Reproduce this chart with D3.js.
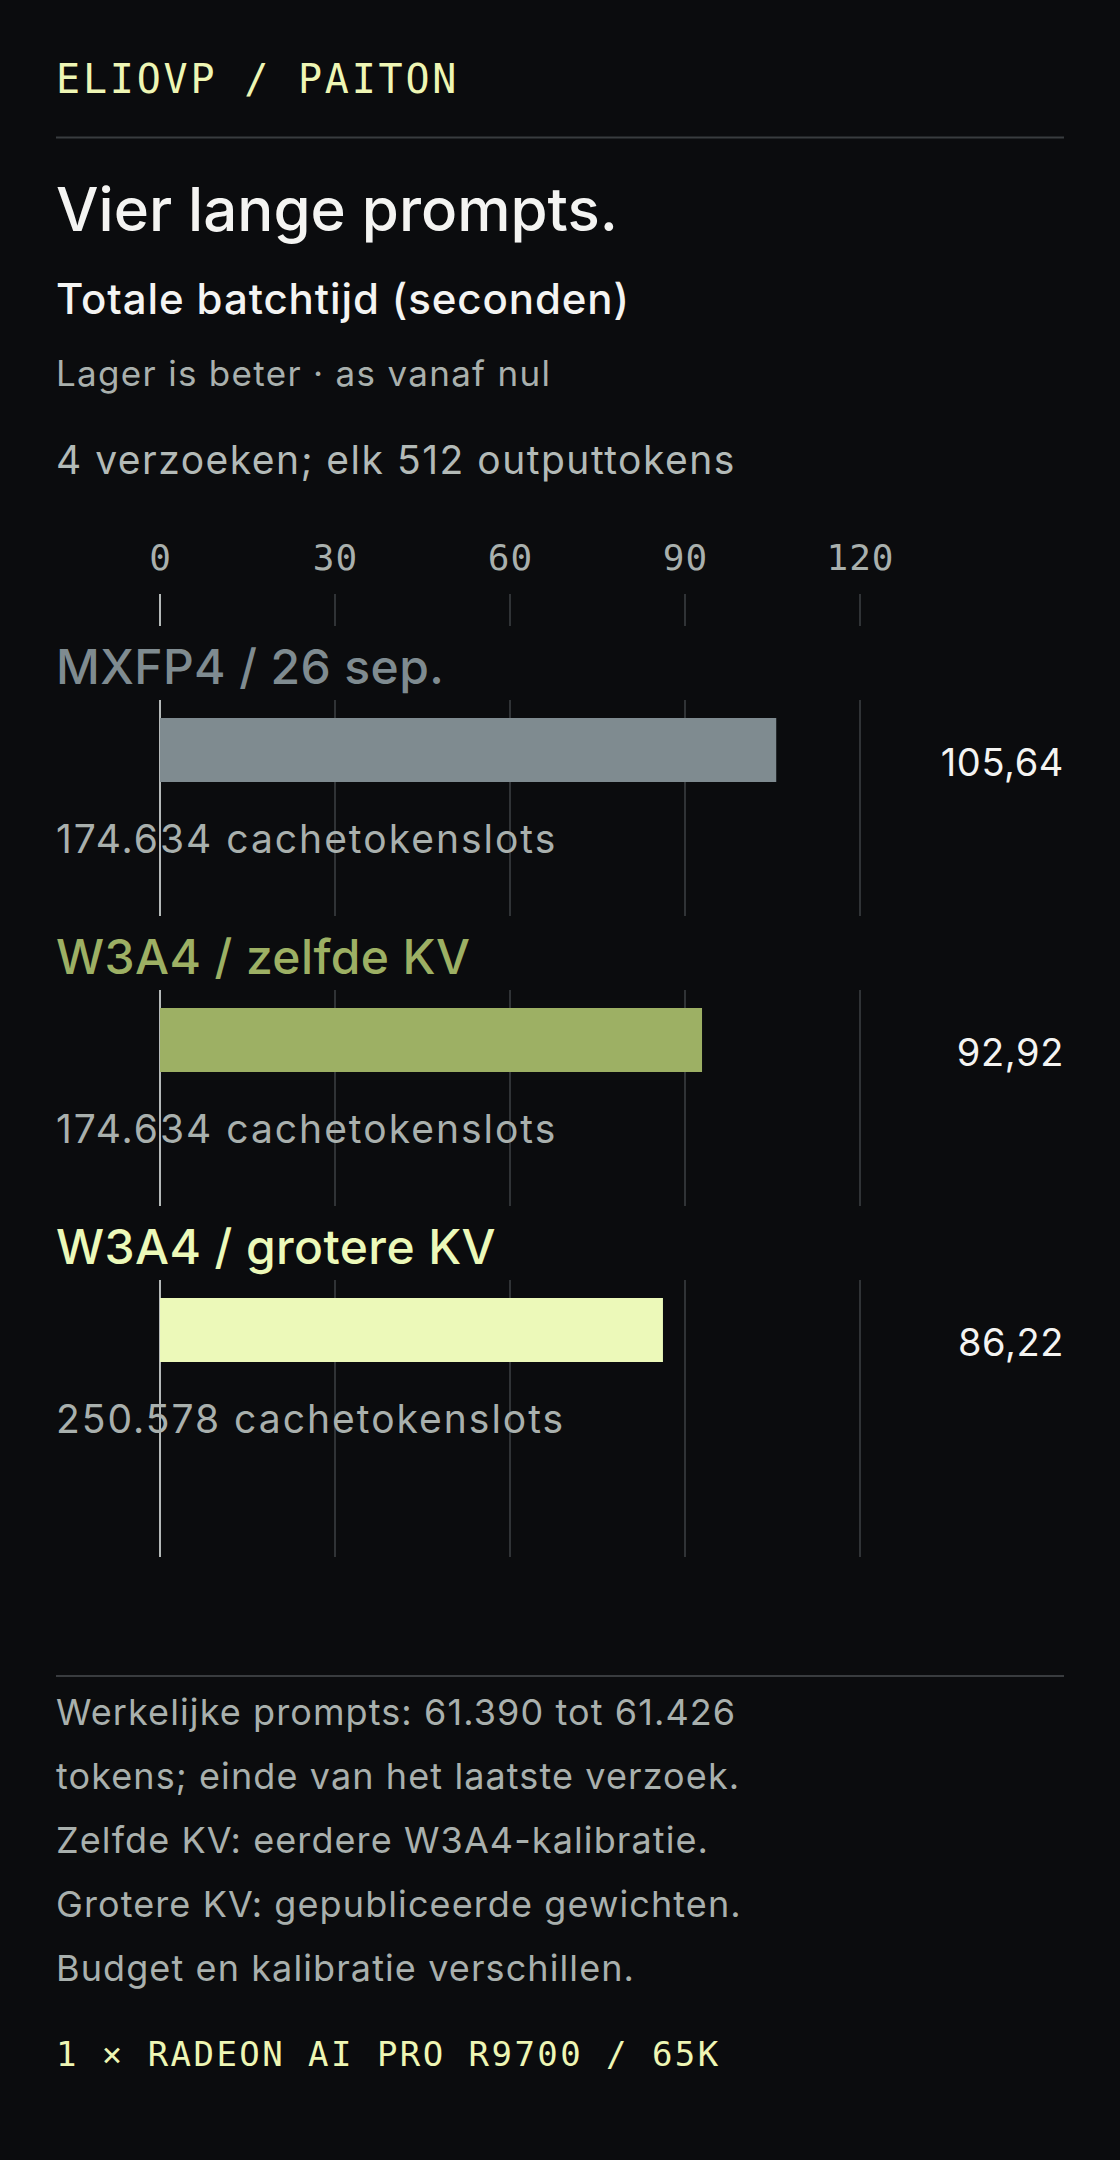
<!DOCTYPE html>
<html>
<head>
<meta charset="utf-8">
<script src="https://cdn.jsdelivr.net/npm/d3@7"></script>
<style>
  html, body { margin: 0; padding: 0; background: #0b0c0e; }
  svg { display: block; }
</style>
</head>
<body>
<script>
// totale batchtijd per variant

var categories = ["MXFP4 / 26 sep.", "W3A4 / zelfde KV", "W3A4 / grotere KV"];
var seconds = [105.64, 92.92, 86.22];
var cacheSlots = [174634, 174634, 250578];
var tickValues = [0, 30, 60, 90, 120];
var notes = [
  "Werkelijke prompts: 61.390 tot 61.426",
  "tokens; einde van het laatste verzoek.",
  "Zelfde KV: eerdere W3A4-kalibratie.",
  "Grotere KV: gepubliceerde gewichten.",
  "Budget en kalibratie verschillen."
];

var palette = ["#7f8b90", "#9db064", "#ecf9b9"];
var sans = "Inter, 'Noto Sans', sans-serif";
var mono = "'DejaVu Sans Mono', 'Liberation Mono', monospace";

var nl = d3.formatLocale({ decimal: ",", thousands: ".", grouping: [3], currency: ["€", ""] });
var fmtVal = nl.format(".2f");
var fmtInt = nl.format(",d");

var W = 1120, H = 2160, left = 56, right = 1064;

var svg = d3.select("body").append("svg").attr("width", W).attr("height", H);
svg.append("rect").attr("width", W).attr("height", H).attr("fill", "#0b0c0e");

// kop
svg.append("text").attr("x", left).attr("y", 93)
  .attr("font-family", mono).attr("font-size", 40).attr("letter-spacing", 2.8)
  .attr("fill", "#eef6b4").text("ELIOVP / PAITON");

svg.append("line").attr("x1", left).attr("x2", right).attr("y1", 137.5).attr("y2", 137.5)
  .attr("stroke", "#393c3f").attr("stroke-width", 2);

svg.append("text").attr("x", left).attr("y", 231)
  .attr("font-family", sans).attr("font-size", 60).attr("font-weight", 500).attr("letter-spacing", 0)
  .attr("fill", "#f4f4f2").text("Vier lange prompts.");

svg.append("text").attr("x", left).attr("y", 314)
  .attr("font-family", sans).attr("font-size", 42).attr("font-weight", 500).attr("letter-spacing", 0.9)
  .attr("fill", "#f4f4f2").text("Totale batchtijd (seconden)");

svg.append("text").attr("x", left).attr("y", 386)
  .attr("font-family", sans).attr("font-size", 35).attr("letter-spacing", 1.3)
  .attr("fill", "#a9b0ad").text("Lager is beter \u00b7 as vanaf nul");

svg.append("text").attr("x", left).attr("y", 474)
  .attr("font-family", sans).attr("font-size", 39).attr("letter-spacing", 1.5)
  .attr("fill", "#b3bab7").text("4 verzoeken; elk 512 outputtokens");

// schalen
var x = d3.scaleLinear().domain([0, 150]).range([160, 1035]);
var y = d3.scaleBand().domain(categories).range([700, 1570]).padding(0);
var color = d3.scaleOrdinal(categories, palette);

// as bovenaan
var axis = svg.append("g").attr("transform", "translate(0,570)")
  .call(d3.axisTop(x).tickValues(tickValues).tickSize(0).tickPadding(0));
axis.select(".domain").remove();
axis.selectAll("text")
  .attr("font-family", mono).attr("font-size", 36).attr("letter-spacing", 1)
  .attr("fill", "#a9b0ad");

svg.selectAll("line.stub")
  .data(tickValues)
  .enter().append("line")
  .attr("class", "stub")
  .attr("x1", function (d) { return x(d); })
  .attr("x2", function (d) { return x(d); })
  .attr("y1", 594).attr("y2", 626)
  .attr("stroke", function (d) { return d === 0 ? "#b4b9b8" : "#303336"; })
  .attr("stroke-width", 2);

// rijen
var rows = svg.selectAll("g.row")
  .data(categories)
  .enter().append("g")
  .attr("class", "row")
  .attr("transform", function (d) { return "translate(0," + y(d) + ")"; });

rows.each(function (cat, i) {
  var g = d3.select(this);
  var gridEnd = i === categories.length - 1 ? 277 : 216;

  g.selectAll("line.grid")
    .data(tickValues)
    .enter().append("line")
    .attr("class", "grid")
    .attr("x1", function (d) { return x(d); })
    .attr("x2", function (d) { return x(d); })
    .attr("y1", 0).attr("y2", gridEnd)
    .attr("stroke", function (d) { return d === 0 ? "#b4b9b8" : "#303336"; })
    .attr("stroke-width", 2);

  g.append("text").attr("x", left).attr("y", -16)
    .attr("font-family", sans).attr("font-size", 48).attr("font-weight", 500).attr("letter-spacing", 0.4)
    .attr("fill", color(cat)).text(cat);

  g.append("rect")
    .attr("x", x(0)).attr("y", 18)
    .attr("width", x(seconds[i]) - x(0)).attr("height", 64)
    .attr("fill", color(cat));

  g.append("text").attr("x", right).attr("y", 76)
    .attr("text-anchor", "end")
    .attr("font-family", sans).attr("font-size", 38).attr("letter-spacing", 0.6)
    .attr("fill", "#f4f4f2").text(fmtVal(seconds[i]));

  g.append("text").attr("x", left).attr("y", 153)
    .attr("font-family", sans).attr("font-size", 39).attr("letter-spacing", 2)
    .attr("fill", "#a9b0ad").text(fmtInt(cacheSlots[i]) + " cachetokenslots");
});

// voetnoten
svg.append("line").attr("x1", left).attr("x2", right).attr("y1", 1676).attr("y2", 1676)
  .attr("stroke", "#393c3f").attr("stroke-width", 2);

svg.selectAll("text.note")
  .data(notes)
  .enter().append("text")
  .attr("class", "note")
  .attr("x", left)
  .attr("y", function (d, i) { return 1725 + i * 64; })
  .attr("font-family", sans).attr("font-size", 36).attr("letter-spacing", 1.1)
  .attr("fill", "#a9b0ad")
  .text(function (d) { return d; });

svg.append("text").attr("x", left).attr("y", 2066)
  .attr("font-family", mono).attr("font-size", 34).attr("letter-spacing", 2.45)
  .attr("fill", "#eef6b4").text("1 \u00d7 RADEON AI PRO R9700 / 65K");
</script>
</body>
</html>
